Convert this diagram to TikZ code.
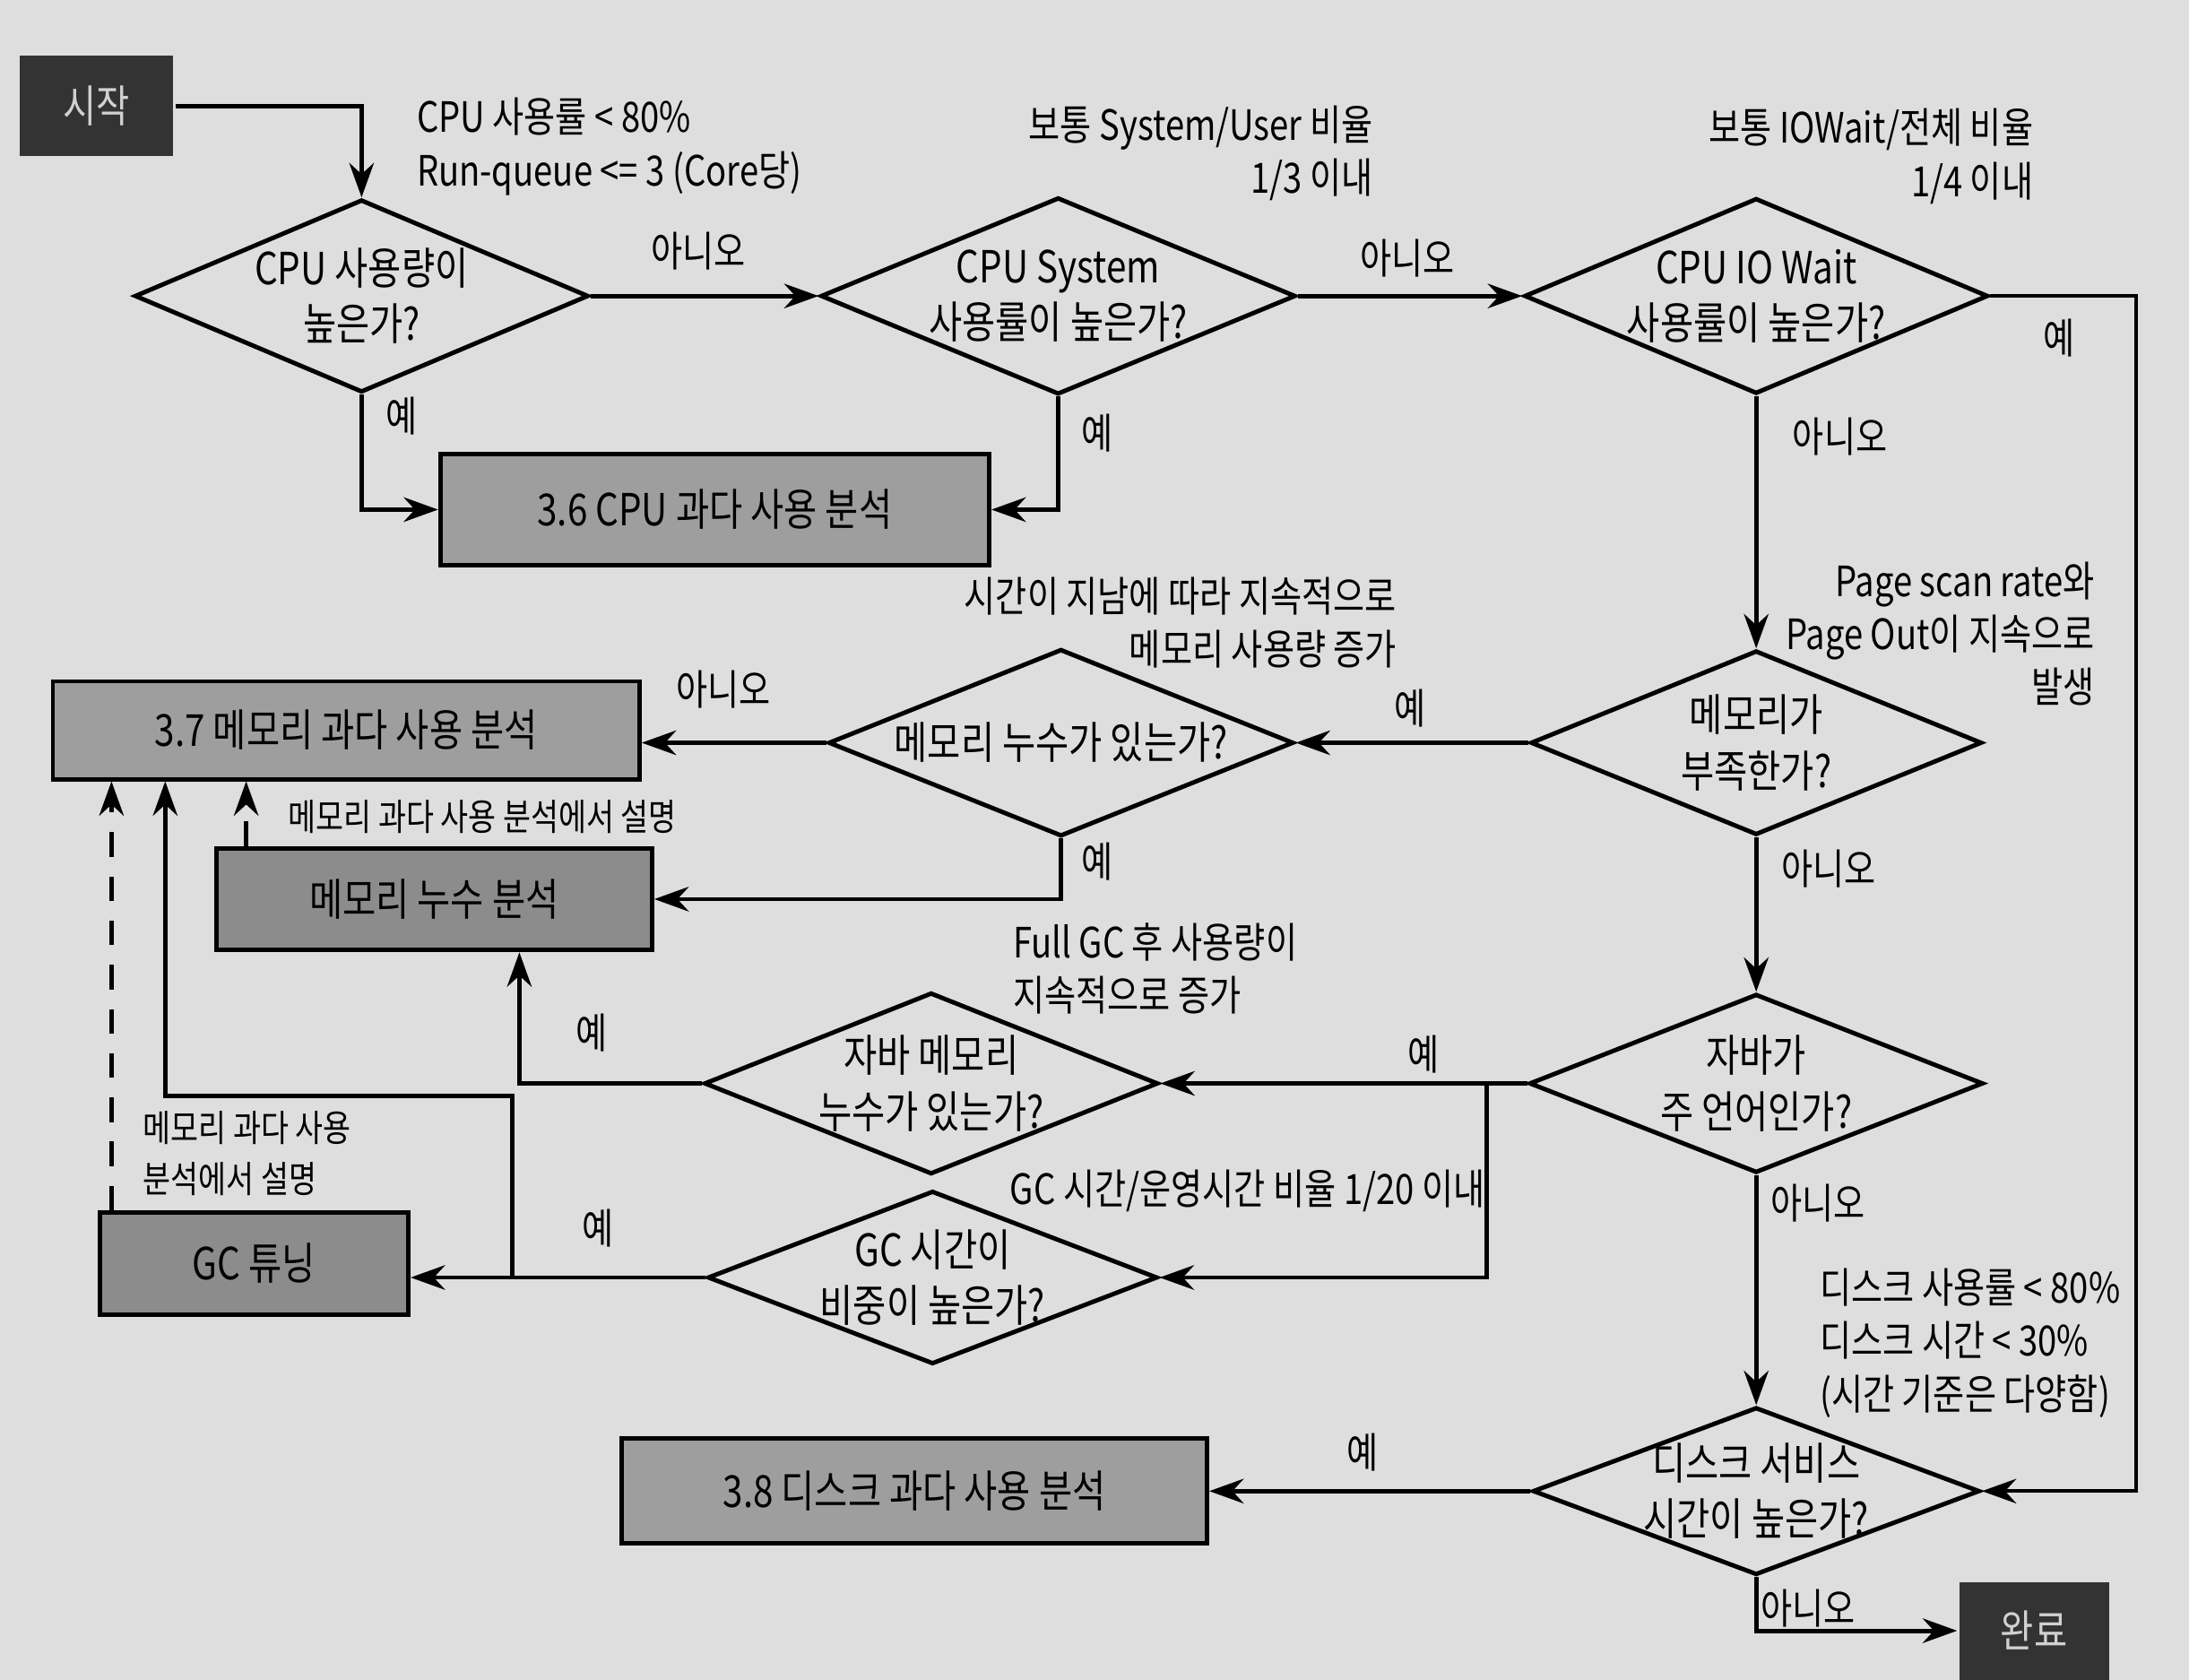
\documentclass[tikz,border=0pt]{standalone}
\usepackage{fontspec}
\setmainfont[FakeStretch=0.82]{Noto Sans CJK KR}
\usetikzlibrary{shapes.geometric,arrows.meta}
\definecolor{paper}{gray}{0.87}
\definecolor{boxgray}{gray}{0.62}
\definecolor{boxdark}{gray}{0.55}
\definecolor{termgray}{gray}{0.2}
\definecolor{termtext}{gray}{0.82}

\begin{document}
\begin{tikzpicture}[x=0.01cm,y=-0.01cm,line width=0.9pt,
    dec/.style={diamond,draw,aspect=2.5,inner xsep=-8pt,inner ysep=-4pt,align=center,
        font=\fontsize{9}{11.4}\selectfont},
    act/.style={rectangle,draw,fill=boxgray,font=\fontsize{9}{11.4}\selectfont},
    term/.style={rectangle,fill=termgray,text=termtext,font=\fontsize{9}{11.4}\selectfont},
    lbl/.style={inner sep=0pt,font=\fontsize{8.5}{10.8}\selectfont},
    note/.style={inner sep=0pt,font=\fontsize{7.5}{10.5}\selectfont},
    arr/.style={-{Stealth[length=7pt,width=5pt]}}]
%    \draw[orange,thin] (0,0) grid[step=100] (1568,1203);
    \fill[paper] (0,0) rectangle (1568,1203);
    \useasboundingbox (0,0) rectangle (1568,1203);

    % cpu row
    \node[term,minimum width=1.1cm,minimum height=0.72cm] (start) at (69,76) {시작};
    \node[dec,minimum width=3.25cm,minimum height=1.38cm] (d1) at (259,212) {CPU 사용량이\\높은가?};
    \node[dec,minimum width=3.4cm,minimum height=1.41cm] (d2) at (758,212) {CPU System\\사용률이 높은가?};
    \node[dec,minimum width=3.32cm,minimum height=1.4cm] (d3) at (1258,212) {CPU IO Wait\\사용률이 높은가?};
    \node[act,minimum width=3.93cm,minimum height=0.8cm] (cpu) at (512,365) {3.6 CPU 과다 사용 분석};

    % memory
    \node[dec,minimum width=3.23cm,minimum height=1.32cm] (mem) at (1258,532) {메모리가\\부족한가?};
    \node[dec,minimum width=3.33cm,minimum height=1.34cm] (leak) at (760,532) {메모리 누수가 있는가?};
    \node[act,minimum width=4.2cm,minimum height=0.7cm] (memover) at (248,523) {3.7 메모리 과다 사용 분석};
    \node[act,fill=boxdark,minimum width=3.12cm,minimum height=0.73cm] (leakbox) at (311,644) {메모리 누수 분석};

    % java
    \node[dec,minimum width=3.25cm,minimum height=1.28cm] (java) at (1258,776) {자바가\\주 언어인가?};
    \node[dec,minimum width=3.25cm,minimum height=1.3cm] (jleak) at (667,776) {자바 메모리\\누수가 있는가?};
    \node[dec,minimum width=3.22cm,minimum height=1.24cm] (gc) at (668,915) {GC 시간이\\비중이 높은가?};
    \node[act,fill=boxdark,minimum width=2.21cm,minimum height=0.73cm] (gctune) at (182,905) {GC 튜닝};

    % disk
    \node[dec,minimum width=3.2cm,minimum height=1.2cm] (disk) at (1258,1068) {디스크 서비스\\시간이 높은가?};
    \node[act,minimum width=4.19cm,minimum height=0.75cm] (diskover) at (655,1068) {3.8 디스크 과다 사용 분석};
    \node[term,minimum width=1.07cm,minimum height=0.7cm] (done) at (1457,1168) {완료};

    \coordinate (rside) at (1530,1068);
    \coordinate (jsplit) at (1065,776);
    \coordinate (gsplit) at (367,915);
    \coordinate (gup) at (367,785);

    \draw[arr] (start.east) -| (d1.north);
    \draw[arr] (d1.east) -- (d2.west);
    \draw[arr] (d2.east) -- (d3.west);
    \draw[arr] (d1.south) |- (cpu.west);
    \draw[arr] (d2.south) |- (cpu.east);
    \draw[arr,line width=0.7pt] (d3.east) -| (rside) -- (disk.east);
    \draw[arr] (d3.south) -- (mem.north);
    \draw[arr] (mem.west) -- (leak.east);
    \draw[arr] (leak.west) -- (leak.west -| memover.east);
    \draw[arr] (leak.south) |- (leakbox.east);
    \draw[arr,dash pattern=on 5pt off 4pt] ([xshift=0.23cm]leakbox.north west) -- ([xshift=0.23cm]leakbox.north west |- memover.south);
    \draw[arr] (mem.south) -- (java.north);
    \draw[arr] (java.west) -- (jleak.east);
    \draw[arr] (jsplit) |- (gc.east);
    \draw[arr] (jleak.west) -| ([xshift=0.61cm]leakbox.south);
    \draw[arr] (gc.west) -- (gc.west -| gctune.east);
    \draw[arr] (gsplit) -- (gup) -| ([xshift=0.82cm]memover.south west);
    \draw[arr,dash pattern=on 5pt off 4pt] ([xshift=0.1cm]gctune.north west) -- ([xshift=0.1cm]gctune.north west |- memover.south);
    \draw[arr] (java.south) -- (disk.north);
    \draw[arr] (disk.west) -- (diskover.east);
    \draw[arr] (disk.south) |- (done.west);

    % conditions
    \node[lbl,anchor=west,align=left] (c1) at (297,105) {CPU 사용률 < 80\%\\Run-queue <= 3 (Core당)};
    \node[lbl,anchor=east,align=right] (c2) at (985,110) {보통 System/User 비율\\1/3 이내};
    \node[lbl,anchor=east,align=right] (c3) at (1458,112) {보통 IOWait/전체 비율\\1/4 이내};
    \node[lbl,anchor=east,align=right] (c4) at (1502,454) {Page scan rate와\\Page Out이 지속으로\\발생};
    \node[lbl,anchor=east,align=right] (c5) at (1002,446) {시간이 지남에 따라 지속적으로\\메모리 사용량 증가};
    \node[lbl,anchor=west,align=left] (c6) at (724,694) {Full GC 후 사용량이\\지속적으로 증가};
    \node[lbl,anchor=west] (c7) at (722,853) {GC 시간/운영시간 비율 1/20 이내};
    \node[lbl,anchor=west,align=left] (c8) at (1302,962) {디스크 사용률 < 80\%\\디스크 시간 < 30\%\\(시간 기준은 다양함)};
    \node[note,anchor=west] (n1) at (205,585) {메모리 과다 사용 분석에서 설명};
    \node[note,anchor=west,align=left] (n2) at (101,826) {메모리 과다 사용\\분석에서 설명};

    % yes / no
    \node[lbl] (l1) at (500,180) {아니오};
    \node[lbl] (l2) at (1008,185) {아니오};
    \node[lbl] (l3) at (1475,242) {예};
    \node[lbl] (l4) at (288,298) {예};
    \node[lbl] (l5) at (786,310) {예};
    \node[lbl] (l6) at (1318,313) {아니오};
    \node[lbl] (l7) at (1010,507) {예};
    \node[lbl] (l8) at (518,494) {아니오};
    \node[lbl] (l9) at (786,617) {예};
    \node[lbl] (l10) at (1310,622) {아니오};
    \node[lbl] (l11) at (1020,755) {예};
    \node[lbl] (l12) at (424,740) {예};
    \node[lbl] (l13) at (428,880) {예};
    \node[lbl] (l14) at (1302,862) {아니오};
    \node[lbl] (l15) at (976,1040) {예};
    \node[lbl] (l16) at (1295,1152) {아니오};
\end{tikzpicture}
\end{document}
